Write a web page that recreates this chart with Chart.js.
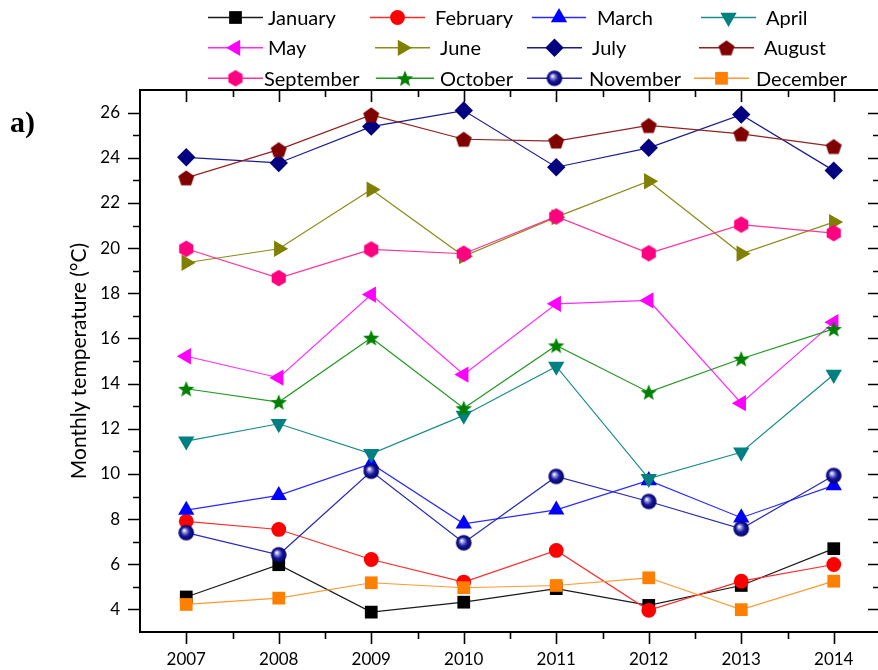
<!DOCTYPE html>
<html>
<head>
<meta charset="utf-8">
<script src="https://cdn.jsdelivr.net/npm/chart.js@4/dist/chart.umd.min.js"></script>
<style>
  html, body { margin: 0; padding: 0; background: #ffffff; overflow: hidden; }
  #wrap { width: 878px; height: 670px; overflow: hidden; position: relative; }
  canvas { display: block; }
</style>
</head>
<body>
<div id="wrap"><canvas id="c" width="880" height="670"></canvas></div>
<script>
// Monthly mean temperatures, 2007-2014
const years = [2007, 2008, 2009, 2010, 2011, 2012, 2013, 2014];
const months = ['January', 'February', 'March', 'April', 'May', 'June',
                'July', 'August', 'September', 'October', 'November', 'December'];

const january   = [4.55, 5.98, 3.88, 4.32, 4.92, 4.18, 5.06, 6.69];
const february  = [7.90, 7.54, 6.21, 5.21, 6.61, 3.96, 5.25, 5.99];
const march     = [8.40, 9.05, 10.45, 7.79, 8.41, 9.71, 8.06, 9.49];
const april     = [11.45, 12.22, 10.89, 12.59, 14.76, 9.79, 10.96, 14.40];
const may       = [15.21, 14.26, 17.94, 14.40, 17.53, 17.68, 13.13, 16.72];
const june      = [19.35, 19.97, 22.59, 19.64, 21.37, 22.96, 19.75, 21.15];
const july      = [24.02, 23.77, 25.38, 26.09, 23.58, 24.44, 25.91, 23.43];
const august    = [23.11, 24.36, 25.90, 24.82, 24.74, 25.43, 25.06, 24.50];
const september = [19.97, 18.67, 19.94, 19.75, 21.40, 19.77, 21.04, 20.66];
const october   = [13.77, 13.18, 16.03, 12.91, 15.69, 13.62, 15.10, 16.42];
const november  = [7.40, 6.42, 10.12, 6.95, 9.89, 8.78, 7.57, 9.93];
const december  = [4.22, 4.50, 5.18, 4.96, 5.06, 5.40, 3.99, 5.25];

const yTicks = [4, 6, 8, 10, 12, 14, 16, 18, 20, 22, 24, 26];
const xTicks = years;

// ---- custom marker bitmaps ----
function markerCanvas(size, draw) {
  const cv = document.createElement('canvas');
  cv.width = size; cv.height = size;
  const g = cv.getContext('2d');
  draw(g, size / 2, size / 2);
  return cv;
}
function polygon(g, cx, cy, n, r, startDeg) {
  g.beginPath();
  for (let i = 0; i < n; i++) {
    const a = (startDeg + i * 360 / n) * Math.PI / 180;
    const px = cx + r * Math.cos(a), py = cy + r * Math.sin(a);
    if (i === 0) g.moveTo(px, py); else g.lineTo(px, py);
  }
  g.closePath();
}
const pentagon = markerCanvas(20, (g, cx, cy) => {
  polygon(g, cx, cy + 0.8, 5, 8.4, -90);
  g.fillStyle = '#800000'; g.fill();
});
const hexagon = markerCanvas(20, (g, cx, cy) => {
  polygon(g, cx, cy, 6, 8.2, -90);
  g.fillStyle = '#ff0080'; g.fill();
});
const star = markerCanvas(20, (g, cx, cy) => {
  g.beginPath();
  for (let i = 0; i < 10; i++) {
    const r = i % 2 === 0 ? 8.6 : 3.7;
    const a = (-90 + i * 36) * Math.PI / 180;
    const px = cx + r * Math.cos(a), py = cy + 0.8 + r * Math.sin(a);
    if (i === 0) g.moveTo(px, py); else g.lineTo(px, py);
  }
  g.closePath();
  g.fillStyle = '#008000'; g.fill();
});
const sphere = markerCanvas(18, (g, cx, cy) => {
  const grd = g.createRadialGradient(cx - 2.2, cy - 2.4, 0.3, cx, cy, 7.8);
  grd.addColorStop(0, '#ffffff');
  grd.addColorStop(0.22, '#9a9ae0');
  grd.addColorStop(0.55, '#1a1aa0');
  grd.addColorStop(1, '#000060');
  g.beginPath(); g.arc(cx, cy, 7.8, 0, Math.PI * 2);
  g.fillStyle = grd; g.fill();
});

// series appearance: marker colour, line colour, point style, rotation, radius
const styles = [
  { mk: '#000000', ln: '#1a1a1a', ps: 'rect',     rot: 0,   r: 9.0 },
  { mk: '#ff0000', ln: '#ff2a2a', ps: 'circle',   rot: 0,   r: 7.4 },
  { mk: '#0000ff', ln: '#2a2aff', ps: 'triangle', rot: 0,   r: 9.4 },
  { mk: '#008080', ln: '#1a8c8c', ps: 'triangle', rot: 180, r: 9.4 },
  { mk: '#ff00ff', ln: '#ff2aff', ps: 'triangle', rot: 270, r: 9.4 },
  { mk: '#808000', ln: '#8c8c1a', ps: 'triangle', rot: 90,  r: 9.4 },
  { mk: '#000080', ln: '#1a1a90', ps: 'rectRot',  rot: 0,   r: 9.2 },
  { mk: '#800000', ln: '#902222', ps: pentagon,   rot: 0,   r: 8 },
  { mk: '#ff0080', ln: '#ff3399', ps: hexagon,    rot: 0,   r: 8 },
  { mk: '#008000', ln: '#229922', ps: star,       rot: 0,   r: 8 },
  { mk: '#000090', ln: '#2a2ab0', ps: sphere,     rot: 0,   r: 8 },
  { mk: '#ff8000', ln: '#ff9a33', ps: 'rect',     rot: 0,   r: 9.0 }
];
const series = [january, february, march, april, may, june,
                july, august, september, october, november, december];

const datasets = series.map((vals, i) => ({
  label: months[i],
  data: vals.map((v, k) => ({ x: years[k], y: v })),
  borderColor: styles[i].ln,
  backgroundColor: styles[i].mk,
  borderWidth: 1.2,
  pointStyle: styles[i].ps,
  pointRotation: styles[i].rot,
  pointRadius: styles[i].r,
  pointBackgroundColor: styles[i].mk,
  pointBorderColor: styles[i].mk,
  pointBorderWidth: 0,
  tension: 0,
  order: 12 - i,
  clip: false
}));

// legend grid: line start/end and label x for each entry, row centre y
const legendCols = [
  [208, 263, 268], [370, 425, 435], [532, 586, 597], [701, 756, 766],
  [208, 263, 268], [375, 430, 440], [527, 582, 592], [699, 754, 764],
  [208, 263, 264], [376, 434, 440], [527, 582, 589], [694, 749, 756]
];
const legendRows = [17.5, 47.8, 78.3];

const framePlugin = {
  id: 'frame',
  afterDatasetsDraw(chart) {
    const { ctx, chartArea: a, scales: { x, y } } = chart;
    ctx.save();
    ctx.strokeStyle = '#000';
    ctx.lineWidth = 2;
    ctx.lineCap = 'butt';
    ctx.beginPath();
    ctx.rect(a.left, a.top, a.right - a.left, a.bottom - a.top);
    ctx.stroke();
    ctx.lineWidth = 1.6;
    ctx.beginPath();
    // y ticks: major at even values, minor at odd values
    for (let v = 4; v <= 26; v++) {
      const py = Math.round(y.getPixelForValue(v)) + 0.5;
      const len = v % 2 === 0 ? 12 : 7;
      ctx.moveTo(a.left, py); ctx.lineTo(a.left - len, py);
      ctx.moveTo(a.right, py); ctx.lineTo(a.right - len, py);
    }
    // x ticks: major at years, minor at half years
    for (let v = 2007; v <= 2014.01; v += 0.5) {
      const px = Math.round(x.getPixelForValue(v)) + 0.5;
      const len = Number.isInteger(v) ? 12 : 7;
      ctx.moveTo(px, a.bottom); ctx.lineTo(px, a.bottom + len);
      ctx.moveTo(px, a.top); ctx.lineTo(px, a.top + len);
    }
    ctx.stroke();
    ctx.restore();
  },
  afterDraw(chart) {
    const ctx = chart.ctx;
    ctx.save();
    // panel letter
    ctx.fillStyle = '#000';
    ctx.font = 'bold 30px "Liberation Serif", "DejaVu Serif", serif';
    ctx.textAlign = 'left';
    ctx.textBaseline = 'alphabetic';
    ctx.fillText('a)', 10, 132);
    // legend
    chart.data.datasets.forEach((ds, i) => {
      const [x0, x1, tx] = legendCols[i];
      const yy = legendRows[Math.floor(i / 4)];
      ctx.strokeStyle = ds.borderColor;
      ctx.lineWidth = 1.4;
      ctx.beginPath(); ctx.moveTo(x0, yy); ctx.lineTo(x1, yy); ctx.stroke();
      const cx = (x0 + x1) / 2;
      const ps = ds.pointStyle;
      if (typeof ps === 'string') {
        ctx.fillStyle = ds.pointBackgroundColor;
        ctx.strokeStyle = ds.pointBorderColor;
        Chart.helpers.drawPoint(ctx, { pointStyle: ps, rotation: ds.pointRotation,
          radius: ds.pointRadius, borderWidth: 0 }, cx, yy);
      } else {
        ctx.drawImage(ps, cx - ps.width / 2, yy - ps.height / 2);
      }
      ctx.fillStyle = '#000';
      ctx.font = '20px Lato, "Open Sans", sans-serif';
      ctx.textAlign = 'left';
      ctx.textBaseline = 'middle';
      ctx.fillText(ds.label, tx, yy + 1);
    });
    ctx.restore();
  }
};

new Chart(document.getElementById('c'), {
  type: 'line',
  data: { datasets },
  options: {
    responsive: false,
    animation: false,
    events: [],
    layout: { autoPadding: false, padding: { top: 90, right: 0, left: 0, bottom: 0 } },
    plugins: { legend: { display: false }, tooltip: { enabled: false } },
    scales: {
      x: {
        type: 'linear',
        min: 2006.5,
        max: 2014.5,
        grid: { display: false, drawTicks: false },
        border: { display: false },
        afterBuildTicks: s => { s.ticks = xTicks.map(v => ({ value: v })); },
        afterFit: s => { s.height = 38; s.paddingLeft = 0; s.paddingRight = 0; },
        ticks: {
          padding: 17,
          color: '#000',
          font: { family: 'Lato', size: 17 },
          callback: v => String(v)
        }
      },
      y: {
        type: 'linear',
        min: 3,
        max: 27,
        grid: { display: false, drawTicks: false },
        border: { display: false },
        afterBuildTicks: s => { s.ticks = yTicks.map(v => ({ value: v })); },
        afterFit: s => { s.width = 140; s.paddingTop = 0; s.paddingBottom = 0; },
        ticks: {
          padding: 20,
          color: '#000',
          font: { family: 'Lato', size: 17 }
        },
        title: {
          display: true,
          text: 'Monthly temperature (°C)',
          color: '#000',
          font: { family: 'Lato', size: 21 },
          padding: { top: 67, bottom: 0 }
        }
      }
    }
  },
  plugins: [framePlugin]
});
</script>
</body>
</html>
